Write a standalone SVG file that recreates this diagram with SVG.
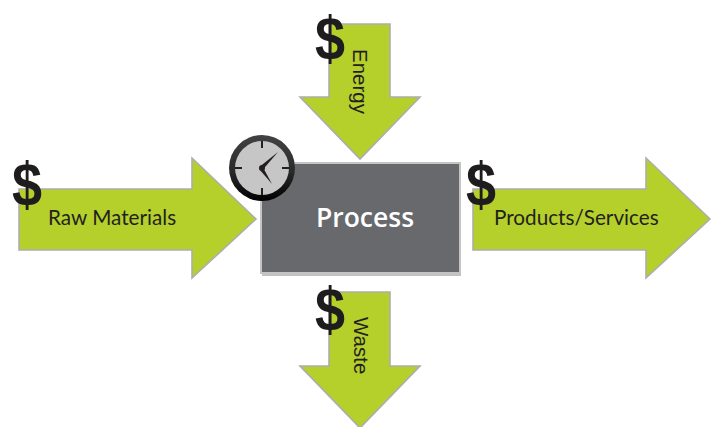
<svg xmlns="http://www.w3.org/2000/svg" width="715" height="427" viewBox="0 0 715 427">
<defs>
<filter id="soft" x="-5%" y="-5%" width="110%" height="110%"><feGaussianBlur stdDeviation="0.7"/></filter>
<linearGradient id="ring" x1="0" y1="0" x2="0" y2="1"><stop offset="0" stop-color="#414244"/><stop offset="0.55" stop-color="#2a2a2b"/><stop offset="1" stop-color="#000000"/></linearGradient>
</defs>
<style>
.arrow{fill:#b5cf2b;stroke:#adadad;stroke-width:1.6;stroke-linejoin:miter}
.label{font-family:"Lato","Open Sans",sans-serif;font-size:20.7px;fill:#231f20}
.vlabel{font-family:"Liberation Sans",sans-serif;font-size:20.5px;fill:#231f20}
.dollar{font-family:"Liberation Sans",Arial,sans-serif;font-size:62px;font-weight:700;fill:#1f1c1d;text-anchor:middle}
.tick{stroke:#231f20;stroke-width:2}
</style>
<g id="connectors">
<path id="arrow-raw" class="arrow" d="M19 189H192V158L256 219L192 278V250H19Z"/>
<path id="arrow-products" class="arrow" d="M473 189H646V158L710 219L646 278V250H473Z"/>
<path id="arrow-energy" class="arrow" d="M329 24H390V97H420L360 159L300 97H329Z"/>
<path id="arrow-waste" class="arrow" d="M329 292H390V366H420L360 428L300 366H329Z"/>
</g>
<g id="process">
<rect x="262" y="166" width="199" height="110" fill="#9a9a9a" opacity="0.6" filter="url(#soft)"/>
<rect x="261" y="163" width="199" height="110" fill="#68696d" stroke="#c4c4c4" stroke-width="2"/>
<text x="365" y="227" text-anchor="middle" font-family="'Open Sans',Lato,sans-serif" font-size="26.5" font-weight="600" fill="#ffffff">Process</text>
</g>
<g id="clock">
<circle cx="262" cy="168" r="33" fill="url(#ring)"/>
<circle cx="262" cy="168" r="27" fill="#c6c6c7"/>
<path class="tick" d="M262 141v7M262 188v7M235 168h7M282 168h7"/>
<path d="M278 152L262.500 170L260.500 166Z" fill="#231f20"/>
<path d="M272 184L259.500 169.500L262.500 166.500Z" fill="#231f20"/>
<circle cx="262" cy="168" r="3" fill="#231f20"/>
</g>
<g id="raw-materials">
<text class="dollar" transform="translate(27 204.500) scale(0.87 1)">$</text>
<text class="label" x="48" y="225">Raw Materials</text>
</g>
<g id="products-services">
<text class="dollar" transform="translate(481 204.500) scale(0.87 1)">$</text>
<text class="label" x="494" y="225">Products/Services</text>
</g>
<g id="energy">
<text class="dollar" transform="translate(330 59) scale(0.87 1)">$</text>
<text class="vlabel" transform="translate(353 49) rotate(90)">Energy</text>
</g>
<g id="waste">
<text class="dollar" transform="translate(330 329.500) scale(0.87 1)">$</text>
<text class="vlabel" transform="translate(354 317) rotate(90)">Waste</text>
</g>
</svg>
